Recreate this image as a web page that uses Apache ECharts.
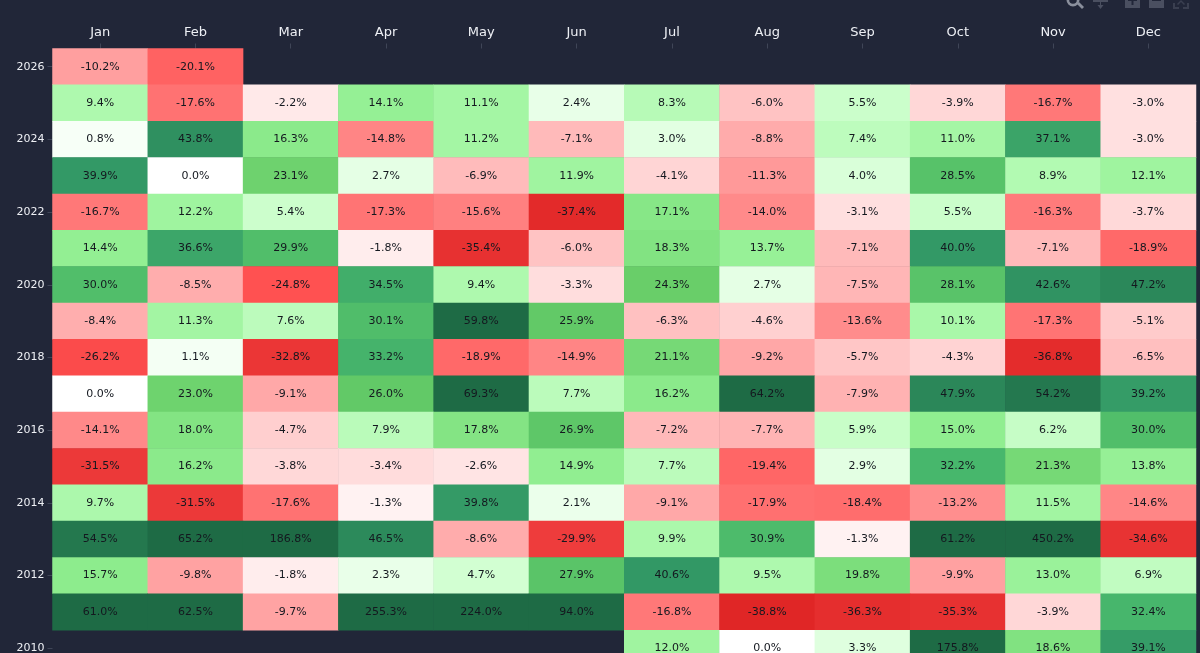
<!DOCTYPE html>
<html><head><meta charset="utf-8">
<style>html,body{margin:0;padding:0;background:#212638;overflow:hidden}#c{width:1200px;height:653px}</style>
<script src="https://cdn.jsdelivr.net/npm/echarts@6/dist/echarts.min.js"></script>
</head><body><div id="c"></div>
<script>
const months=['Jan','Feb','Mar','Apr','May','Jun','Jul','Aug','Sep','Oct','Nov','Dec'];
const years=[2026,2025,2024,2023,2022,2021,2020,2019,2018,2017,2016,2015,2014,2013,2012,2011,2010];
const r2026=[-10.2,-20.1,null,null,null,null,null,null,null,null,null,null];
const r2025=[9.4,-17.6,-2.2,14.1,11.1,2.4,8.3,-6.0,5.5,-3.9,-16.7,-3.0];
const r2024=[0.8,43.8,16.3,-14.8,11.2,-7.1,3.0,-8.8,7.4,11.0,37.1,-3.0];
const r2023=[39.9,0.0,23.1,2.7,-6.9,11.9,-4.1,-11.3,4.0,28.5,8.9,12.1];
const r2022=[-16.7,12.2,5.4,-17.3,-15.6,-37.4,17.1,-14.0,-3.1,5.5,-16.3,-3.7];
const r2021=[14.4,36.6,29.9,-1.8,-35.4,-6.0,18.3,13.7,-7.1,40.0,-7.1,-18.9];
const r2020=[30.0,-8.5,-24.8,34.5,9.4,-3.3,24.3,2.7,-7.5,28.1,42.6,47.2];
const r2019=[-8.4,11.3,7.6,30.1,59.8,25.9,-6.3,-4.6,-13.6,10.1,-17.3,-5.1];
const r2018=[-26.2,1.1,-32.8,33.2,-18.9,-14.9,21.1,-9.2,-5.7,-4.3,-36.8,-6.5];
const r2017=[0.0,23.0,-9.1,26.0,69.3,7.7,16.2,64.2,-7.9,47.9,54.2,39.2];
const r2016=[-14.1,18.0,-4.7,7.9,17.8,26.9,-7.2,-7.7,5.9,15.0,6.2,30.0];
const r2015=[-31.5,16.2,-3.8,-3.4,-2.6,14.9,7.7,-19.4,2.9,32.2,21.3,13.8];
const r2014=[9.7,-31.5,-17.6,-1.3,39.8,2.1,-9.1,-17.9,-18.4,-13.2,11.5,-14.6];
const r2013=[54.5,65.2,186.8,46.5,-8.6,-29.9,9.9,30.9,-1.3,61.2,450.2,-34.6];
const r2012=[15.7,-9.8,-1.8,2.3,4.7,27.9,40.6,9.5,19.8,-9.9,13.0,6.9];
const r2011=[61.0,62.5,-9.7,255.3,224.0,94.0,-16.8,-38.8,-36.3,-35.3,-3.9,32.4];
const r2010=[null,null,null,null,null,null,12.0,0.0,3.3,175.8,18.6,39.1];
const rows=[r2026,r2025,r2024,r2023,r2022,r2021,r2020,r2019,r2018,r2017,r2016,r2015,r2014,r2013,r2012,r2011,r2010];
const colorStops=[[-40,[221,34,34]],[-35,[232,50,50]],[-30,[238,60,60]],[-25,[255,80,80]],[-20,[255,98,98]],[-15,[255,132,132]],[-10,[255,160,160]],[-5,[255,204,204]],[0,[255,255,255]],[5,[207,255,207]],[10,[170,248,170]],[15,[144,238,144]],[25,[102,204,102]],[32,[72,184,108]],[40,[51,153,102]],[60,[30,107,69]]];
function colorOf(v){
  if(v<=colorStops[0][0])return 'rgb('+colorStops[0][1]+')';
  for(let i=1;i<colorStops.length;i++){
    if(v<=colorStops[i][0]){const a=colorStops[i-1],b=colorStops[i],t=(v-a[0])/(b[0]-a[0]);
      return 'rgb('+a[1].map((c,k)=>Math.round(c+(b[1][k]-c)*t))+')';}
  }
  return 'rgb('+colorStops[colorStops.length-1][1]+')';
}
const cells=[];
rows.forEach((r,y)=>r.forEach((v,x)=>{if(v!==null)cells.push({value:[x,y,v],itemStyle:{color:colorOf(v)}});}));
const BG='#212638', ICON='#4a4f60';
const poly=(pts,fill)=>({type:'polygon',silent:true,shape:{points:pts},style:{fill}});
const toolbarIcons=[
 {type:'ring',silent:true,shape:{cx:1073,cy:0,r:6.5,r0:3.8},style:{fill:'#8a8f9c'}},
 poly([[1077,4],[1079,2],[1084,7],[1082,9]],'#8a8f9c'),
 poly([[1093,0],[1108,0],[1108,2],[1101,2],[1101,5],[1103.5,5],[1100.5,9],[1097.5,5],[1100,5],[1100,2],[1093,2]],ICON),
 {type:'rect',silent:true,shape:{x:1125,y:-7,width:15,height:15},style:{fill:ICON}},
 poly([[1131.5,-1],[1128,-1],[1128,1],[1131.5,1],[1131.5,5],[1133.5,5],[1133.5,1],[1137,1],[1137,-1],[1133.5,-1],[1133.5,-5],[1131.5,-5]],BG),
 {type:'rect',silent:true,shape:{x:1149,y:-7,width:15,height:15},style:{fill:ICON}},
 {type:'rect',silent:true,shape:{x:1152,y:-1,width:9,height:2},style:{fill:BG}},
 poly([[1173,3],[1175,3],[1175,7],[1179,7],[1179,9],[1173,9]],'#3a3f50'),
 poly([[1183,7],[1187,7],[1187,3],[1189,3],[1189,9],[1183,9]],'#3a3f50'),
 poly([[1177,4],[1181,0],[1185,4],[1184,5],[1181,2],[1178,5]],'#3a3f50')
];
const chart=echarts.init(document.getElementById('c'),null,{renderer:'canvas'});
chart.setOption({
  backgroundColor:BG,animation:false,
  grid:{left:52.5,top:48.5,width:1143.5,height:618,outerBoundsMode:'none',containLabel:false},
  graphic:toolbarIcons,
  xAxis:{type:'category',position:'top',data:months,
    axisLine:{show:false},axisTick:{show:true,alignWithLabel:true,length:5,lineStyle:{color:'#3f4557'}},
    axisLabel:{color:'#eef0f5',fontSize:13,margin:9,fontFamily:'"DejaVu Sans",sans-serif'},
    splitLine:{show:false}},
  yAxis:{type:'category',inverse:true,data:years,
    axisLine:{show:false},axisTick:{show:true,alignWithLabel:true,interval:1,length:5,lineStyle:{color:'#3f4557'}},
    axisLabel:{color:'#eef0f5',fontSize:11,margin:8,interval:1,fontFamily:'"DejaVu Sans",sans-serif'},
    splitLine:{show:false}},
  series:[{type:'heatmap',data:cells,
    label:{show:true,color:'#14181f',fontSize:11,fontFamily:'"DejaVu Sans",sans-serif',
      formatter:p=>p.value[2].toFixed(1)+'%'},
    itemStyle:{borderWidth:0},emphasis:{disabled:true}}]
});
</script></body></html>
